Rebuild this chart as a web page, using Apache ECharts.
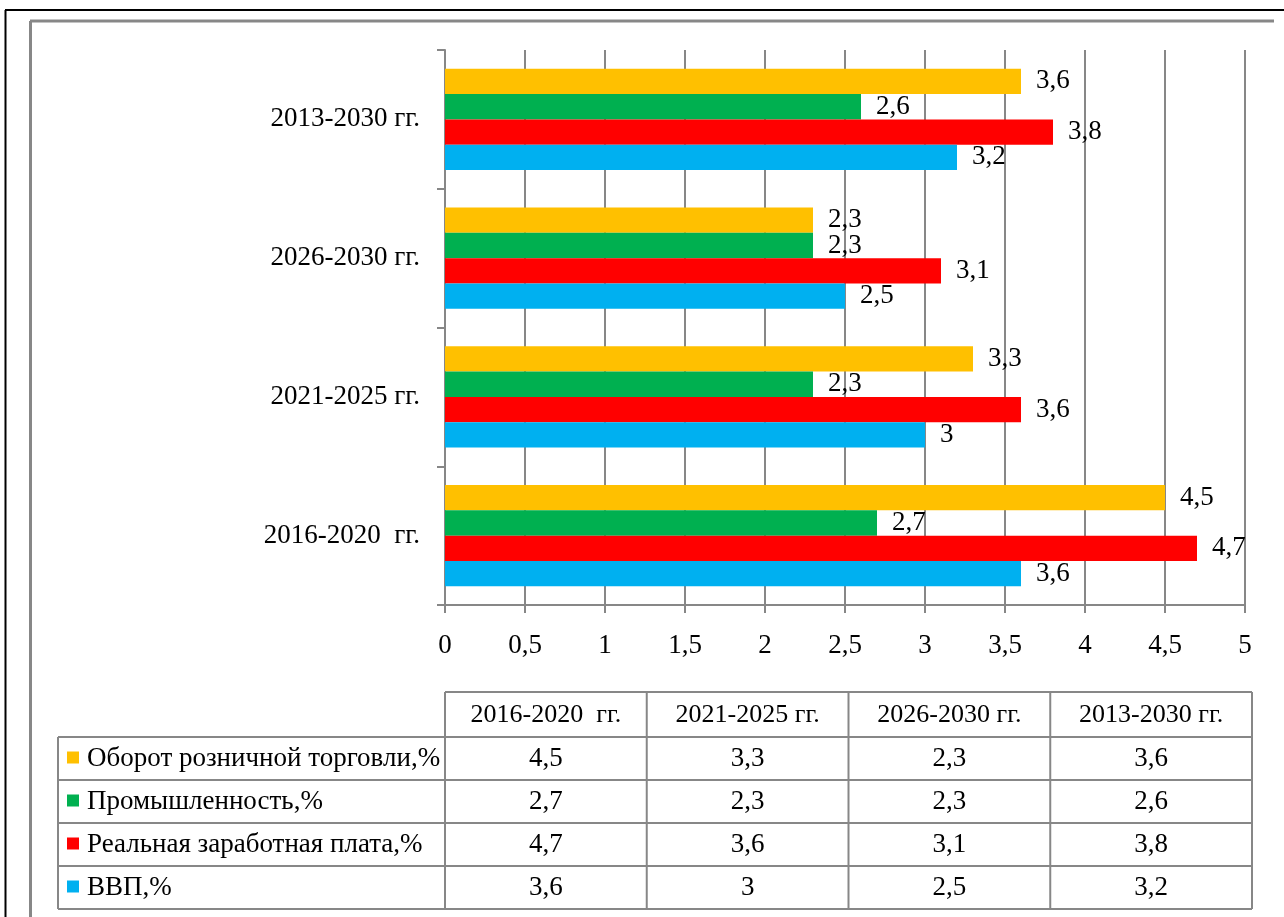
<!DOCTYPE html>
<html>
<head>
<meta charset="utf-8">
<script src="https://cdn.jsdelivr.net/npm/echarts@6/dist/echarts.min.js"></script>
<style>
html,body{margin:0;padding:0;background:#fff;}
#chart{width:1284px;height:917px;}
</style>
</head>
<body>
<div id="chart"></div>
<script>
var categories = ['2016-2020  гг.', '2021-2025 гг.', '2026-2030 гг.', '2013-2030 гг.'];
var seriesNames = ['Оборот розничной торговли,%', 'Промышленность,%', 'Реальная заработная плата,%', 'ВВП,%'];
var retail = [4.5, 3.3, 2.3, 3.6];
var industry = [2.7, 2.3, 2.3, 2.6];
var wage = [4.7, 3.6, 3.1, 3.8];
var vvp = [3.6, 3, 2.5, 3.2];
var xTicks = [0, 0.5, 1, 1.5, 2, 2.5, 3, 3.5, 4, 4.5, 5];

var colors = ['#FFC000', '#00B050', '#FF0000', '#00B0F0'];
var seriesData = [retail, industry, wage, vvp];
var SERIF = '"Liberation Serif", "Times New Roman", serif';
var GRAY = '#878787';
var FS = 27;

function fmt(v) { return String(v).replace('.', ','); }

var chart = echarts.init(document.getElementById('chart'), null, {renderer: 'canvas'});

var gLeft = 445, gRight = 1245, gTop = 50, gBottom = 605;

var series = seriesData.map(function (d, i) {
  return {
    name: seriesNames[i],
    type: 'bar',
    data: d,
    barCategoryGap: '27%',
    barGap: '0%',
    itemStyle: {color: colors[i]},
    label: {
      show: true,
      position: 'right',
      distance: 15,
      formatter: function (p) { return fmt(p.value); },
      fontFamily: SERIF,
      fontSize: FS,
      color: '#000'
    },
    animation: false
  };
});

var graphics = [];
graphics.push({type: 'line', shape: {x1: 5, y1: 10, x2: 1284, y2: 10}, style: {stroke: '#000', lineWidth: 2}});
graphics.push({type: 'line', shape: {x1: 5.5, y1: 10, x2: 5.5, y2: 917}, style: {stroke: '#000', lineWidth: 2}});
graphics.push({type: 'line', shape: {x1: 30, y1: 21, x2: 1274, y2: 21}, style: {stroke: GRAY, lineWidth: 3}});
graphics.push({type: 'line', shape: {x1: 30.5, y1: 21, x2: 30.5, y2: 917}, style: {stroke: GRAY, lineWidth: 3}});

var tLeft = 58, colStart = 445, tRight = 1252;
var colW = (tRight - colStart) / categories.length;
var rowTops = [692, 737, 780, 823, 866, 909];
var lineStyle = {stroke: GRAY, lineWidth: 2};

graphics.push({type: 'line', shape: {x1: colStart, y1: rowTops[0], x2: tRight, y2: rowTops[0]}, style: lineStyle});
for (var r = 1; r < rowTops.length; r++) {
  graphics.push({type: 'line', shape: {x1: tLeft, y1: rowTops[r], x2: tRight, y2: rowTops[r]}, style: lineStyle});
}
for (var c = 0; c <= categories.length; c++) {
  var x = colStart + c * colW;
  graphics.push({type: 'line', shape: {x1: x, y1: rowTops[0], x2: x, y2: rowTops[5]}, style: lineStyle});
}
graphics.push({type: 'line', shape: {x1: tLeft, y1: rowTops[1], x2: tLeft, y2: rowTops[5]}, style: lineStyle});

categories.forEach(function (cat, i) {
  graphics.push({type: 'text', x: colStart + (i + 0.5) * colW, y: (rowTops[0] + rowTops[1]) / 2 + 1,
    style: {text: cat, fill: '#000', font: '26px ' + SERIF, textAlign: 'center', textVerticalAlign: 'middle'}});
});
for (var k = 0; k < 4; k++) {
  var yMid = (rowTops[k + 1] + rowTops[k + 2]) / 2;
  graphics.push({type: 'rect', shape: {x: 67, y: yMid - 7, width: 12, height: 12}, style: {fill: colors[k]}});
  graphics.push({type: 'text', x: 87, y: yMid,
    style: {text: seriesNames[k], fill: '#000', font: FS + 'px ' + SERIF, textAlign: 'left', textVerticalAlign: 'middle'}});
  seriesData[k].forEach(function (v, i) {
    graphics.push({type: 'text', x: colStart + (i + 0.5) * colW, y: yMid,
      style: {text: fmt(v), fill: '#000', font: FS + 'px ' + SERIF, textAlign: 'center', textVerticalAlign: 'middle'}});
  });
}

var option = {
  animation: false,
  backgroundColor: '#fff',
  grid: {left: gLeft, right: 1284 - gRight, top: gTop, bottom: 917 - gBottom, containLabel: false},
  xAxis: {
    type: 'value',
    min: xTicks[0],
    max: xTicks[xTicks.length - 1],
    interval: xTicks[1] - xTicks[0],
    axisLine: {show: true, lineStyle: {color: GRAY, width: 2}},
    axisTick: {show: true, length: 8, lineStyle: {color: GRAY, width: 2}},
    splitLine: {show: true, lineStyle: {color: GRAY, width: 2}},
    axisLabel: {
      margin: 27,
      fontFamily: SERIF,
      fontSize: FS,
      color: '#000',
      formatter: function (v) { return fmt(v); }
    }
  },
  yAxis: {
    type: 'category',
    data: categories,
    axisLine: {show: true, lineStyle: {color: GRAY, width: 2}},
    axisTick: {show: true, length: 8, lineStyle: {color: GRAY, width: 2}},
    axisLabel: {margin: 25, fontFamily: SERIF, fontSize: FS, color: '#000'},
    splitLine: {show: false}
  },
  series: series,
  graphic: graphics
};
chart.setOption(option);
</script>
</body>
</html>
